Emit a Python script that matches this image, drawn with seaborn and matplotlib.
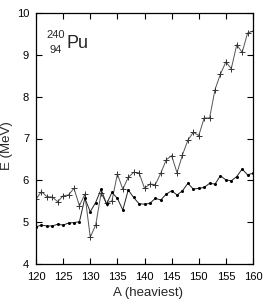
import matplotlib
matplotlib.use("Agg")
import matplotlib.pyplot as plt
import seaborn as sns
import numpy as np
import pandas as pd

A = list(range(120, 161))
E_upper = [5.55, 5.73, 5.61, 5.60, 5.49, 5.63, 5.65, 5.81, 5.39, 5.67,
           4.64, 4.93, 5.69, 5.45, 5.51, 6.15, 5.79, 6.07, 6.19, 6.18,
           5.81, 5.91, 5.90, 6.17, 6.49, 6.59, 6.18, 6.61, 6.96, 7.15,
           7.07, 7.49, 7.49, 8.17, 8.54, 8.83, 8.67, 9.24, 9.06, 9.52, 9.57]
E_lower = [4.89, 4.93, 4.91, 4.91, 4.95, 4.93, 4.98, 4.99, 5.01, 5.57,
           5.25, 5.47, 5.79, 5.43, 5.71, 5.57, 5.29, 5.77, 5.59, 5.44,
           5.43, 5.45, 5.57, 5.53, 5.67, 5.75, 5.65, 5.75, 5.93, 5.79,
           5.81, 5.83, 5.93, 5.91, 6.11, 6.01, 5.99, 6.09, 6.27, 6.13, 6.17]
xticks = [120, 125, 130, 135, 140, 145, 150, 155, 160]
yticks = [4, 5, 6, 7, 8, 9, 10]

sns.set_theme(style="ticks")
plt.rcParams['font.family'] = ['Liberation Sans', 'DejaVu Sans']

df = pd.DataFrame({"A": A, "upper": E_upper, "lower": E_lower})

fig = plt.figure(figsize=(2.7, 3.0), dpi=100)
ax = fig.add_axes([36/270, 1-264/300, 217/270, 251/300])

sns.lineplot(data=df, x="A", y="upper", ax=ax, color="#555555", lw=0.7,
             marker="+", markersize=4, markeredgewidth=0.7, markeredgecolor="#333333")
sns.lineplot(data=df, x="A", y="lower", ax=ax, color="#222222", lw=0.7,
             marker="o", markersize=2.2, markeredgewidth=0, markerfacecolor="black")

ax.set_xlim(120, 160)
ax.set_ylim(4, 10)
ax.set_xticks(xticks)
ax.set_yticks(yticks)
ax.tick_params(direction="in", length=4, width=0.8, labelsize=8,
               top=True, right=True, colors="black")
ax.tick_params(axis="x", pad=6)
ax.tick_params(axis="y", pad=5)
for s in ax.spines.values():
    s.set_linewidth(0.9)
    s.set_color("black")
ax.set_xlabel("")
ax.set_ylabel("")
fig.text(148/270, 1-293/300, "A (heaviest)", fontsize=9.5, ha="center", va="center")
fig.text(7/270, 1-146/300, "E (MeV)", fontsize=9.5, ha="center", va="center", rotation=90)

fig.text(46/270, 1-38/300, "240", fontsize=8, ha="left", va="baseline")
fig.text(50/270, 1-53/300, "94", fontsize=8, ha="left", va="baseline")
fig.text(66/270, 1-48/300, "Pu", fontsize=13, ha="left", va="baseline")

fig.savefig("out.png", dpi=100)
